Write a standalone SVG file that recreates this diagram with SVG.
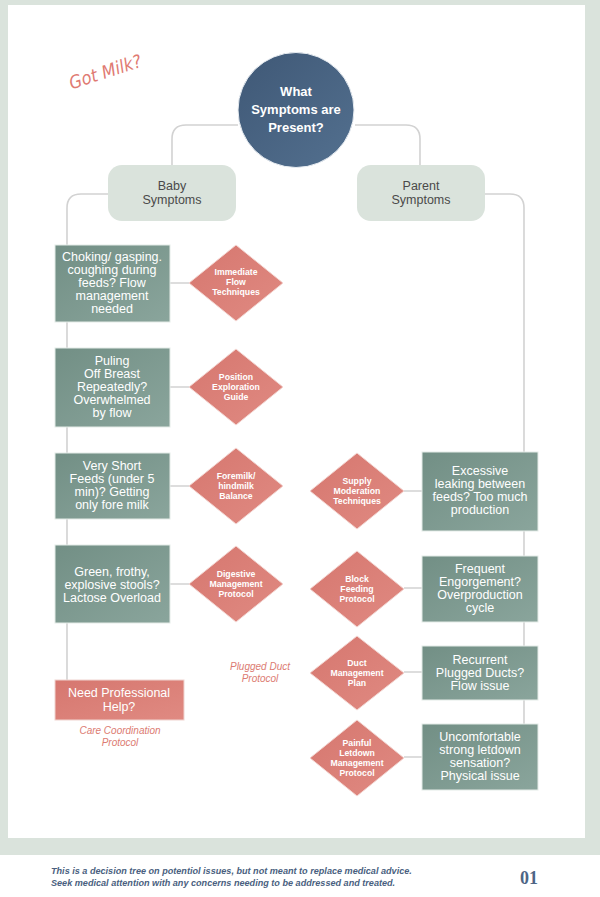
<svg xmlns="http://www.w3.org/2000/svg" width="600" height="897" viewBox="0 0 600 897">
<defs>
<linearGradient id="gTeal" x1="0" y1="0" x2="1" y2="1"><stop offset="0" stop-color="#728f85"/><stop offset="1" stop-color="#8aa59c"/></linearGradient>
<linearGradient id="gSalmon" x1="0" y1="0" x2="1" y2="1"><stop offset="0" stop-color="#d6776f"/><stop offset="1" stop-color="#e08a82"/></linearGradient>
<linearGradient id="gBlue" x1="0" y1="0" x2="1" y2="1"><stop offset="0" stop-color="#3f5876"/><stop offset="1" stop-color="#53708f"/></linearGradient>
<style>
.tb{fill:url(#gTeal);stroke:#e4ebe7;stroke-width:1}
.dm{fill:url(#gSalmon);stroke:#f3d6d2;stroke-width:1}
.sb{fill:#dae3dc}
.ln{fill:none;stroke:#d2d2d2;stroke-width:1.6}
.bt{font-family:"Liberation Sans",Arial,sans-serif;font-size:12.5px;fill:#ffffff;text-anchor:middle}
.dt{font-family:"Liberation Sans",Arial,sans-serif;font-size:8.7px;font-weight:bold;fill:#ffffff;text-anchor:middle}
.st{font-family:"Liberation Sans",Arial,sans-serif;font-size:12.5px;fill:#4a4a4a;text-anchor:middle}
.it{font-family:"Liberation Sans",Arial,sans-serif;font-size:10px;font-style:italic;fill:#dc7b72;text-anchor:middle}
</style>
</defs>
<rect x="0" y="0" width="600" height="855" fill="#dae3dc"/>
<rect x="0" y="855" width="600" height="42" fill="#ffffff"/>
<rect x="8" y="5" width="577" height="833" fill="#ffffff"/>
<text x="106" y="78" transform="rotate(-18 106 74)" font-family="'DejaVu Sans Condensed','DejaVu Sans',sans-serif" font-size="18" font-style="italic" fill="#e07a72" text-anchor="middle">Got Milk?</text>
<g id="connectors">
<path class="ln" d="M238 125 H186 Q172 125 172 139 V165"/>
<path class="ln" d="M355 125 H406 Q420 125 420 139 V165"/>
<path class="ln" d="M108 194 H81 Q67 194 67 208 V680"/>
<path class="ln" d="M485 194 H510 Q524 194 524 208 V790"/>
<path class="ln" d="M170 283 H189 M170 387 H189 M170 486 H189 M170 584 H189"/>
<path class="ln" d="M404 491 H422 M404 588 H422 M404 672 H422 M404 757 H422"/>
</g>
<g id="root"><ellipse cx="296" cy="110" rx="58" ry="57.5" fill="url(#gBlue)" stroke="#e8edf2" stroke-width="1"/>
<text font-family="'Liberation Sans',Arial,sans-serif" font-size="13" font-weight="bold" fill="#fff" text-anchor="middle"><tspan x="296" y="96">What</tspan><tspan x="296" y="114">Symptoms are</tspan><tspan x="296" y="132">Present?</tspan></text></g>
<g id="baby"><rect class="sb" x="108" y="165" width="128" height="56" rx="14"/><text class="st"><tspan x="172" y="190">Baby</tspan><tspan x="172" y="204">Symptoms</tspan></text></g>
<g id="parent"><rect class="sb" x="357" y="165" width="128" height="56" rx="14"/><text class="st"><tspan x="421" y="190">Parent</tspan><tspan x="421" y="204">Symptoms</tspan></text></g>
<g id="b1"><rect class="tb" x="55" y="245" width="115" height="77"/><text class="bt"><tspan x="112" y="261">Choking/ gasping.</tspan><tspan x="112" y="274">coughing during</tspan><tspan x="112" y="287">feeds? Flow</tspan><tspan x="112" y="300">management</tspan><tspan x="112" y="313">needed</tspan></text></g>
<g id="b2"><rect class="tb" x="55" y="348" width="115" height="79"/><text class="bt"><tspan x="112" y="365">Puling</tspan><tspan x="112" y="378">Off Breast</tspan><tspan x="112" y="391">Repeatedly?</tspan><tspan x="112" y="404">Overwhelmed</tspan><tspan x="112" y="417">by flow</tspan></text></g>
<g id="b3"><rect class="tb" x="55" y="453" width="115" height="66"/><text class="bt"><tspan x="112" y="470">Very Short</tspan><tspan x="112" y="483">Feeds (under 5</tspan><tspan x="112" y="496">min)? Getting</tspan><tspan x="112" y="509">only fore milk</tspan></text></g>
<g id="b4"><rect class="tb" x="55" y="545" width="115" height="78"/><text class="bt"><tspan x="112" y="576">Green, frothy,</tspan><tspan x="112" y="589">explosive stools?</tspan><tspan x="112" y="602">Lactose Overload</tspan></text></g>
<g id="b5"><rect x="55" y="680" width="129" height="40" fill="url(#gSalmon)" stroke="#f0d4d0" stroke-width="1"/><text class="bt"><tspan x="119" y="697">Need Professional</tspan><tspan x="119" y="711">Help?</tspan></text>
<text class="it"><tspan x="120" y="734">Care Coordination</tspan><tspan x="120" y="746">Protocol</tspan></text></g>
<g id="d1"><polygon class="dm" points="236,245 283,283 236,321 189,283"/><text class="dt"><tspan x="236" y="275">Immediate</tspan><tspan x="236" y="285">Flow</tspan><tspan x="236" y="295">Techniques</tspan></text></g>
<g id="d2"><polygon class="dm" points="236,349 283,387 236,425 189,387"/><text class="dt"><tspan x="236" y="380">Position</tspan><tspan x="236" y="390">Exploration</tspan><tspan x="236" y="400">Guide</tspan></text></g>
<g id="d3"><polygon class="dm" points="236,448 283,486 236,524 189,486"/><text class="dt"><tspan x="236" y="479">Foremilk/</tspan><tspan x="236" y="489">hindmilk</tspan><tspan x="236" y="499">Balance</tspan></text></g>
<g id="d4"><polygon class="dm" points="236,546 283,584 236,622 189,584"/><text class="dt"><tspan x="236" y="577">Digestive</tspan><tspan x="236" y="587">Management</tspan><tspan x="236" y="597">Protocol</tspan></text></g>
<g id="p1"><rect class="tb" x="422" y="452" width="116" height="79"/><text class="bt"><tspan x="480" y="475">Excessive</tspan><tspan x="480" y="488">leaking between</tspan><tspan x="480" y="501">feeds? Too much</tspan><tspan x="480" y="514">production</tspan></text></g>
<g id="p2"><rect class="tb" x="422" y="556" width="116" height="66"/><text class="bt"><tspan x="480" y="573">Frequent</tspan><tspan x="480" y="586">Engorgement?</tspan><tspan x="480" y="599">Overproduction</tspan><tspan x="480" y="612">cycle</tspan></text></g>
<g id="p3"><rect class="tb" x="422" y="646" width="116" height="54"/><text class="bt"><tspan x="480" y="664">Recurrent</tspan><tspan x="480" y="677">Plugged Ducts?</tspan><tspan x="480" y="690">Flow issue</tspan></text></g>
<g id="p4"><rect class="tb" x="422" y="724" width="116" height="66"/><text class="bt"><tspan x="480" y="741">Uncomfortable</tspan><tspan x="480" y="754">strong letdown</tspan><tspan x="480" y="767">sensation?</tspan><tspan x="480" y="780">Physical issue</tspan></text></g>
<g id="q1"><polygon class="dm" points="357,453 404,491 357,529 310,491"/><text class="dt"><tspan x="357" y="484">Supply</tspan><tspan x="357" y="494">Moderation</tspan><tspan x="357" y="504">Techniques</tspan></text></g>
<g id="q2"><polygon class="dm" points="357,551 404,589 357,627 310,589"/><text class="dt"><tspan x="357" y="582">Block</tspan><tspan x="357" y="592">Feeding</tspan><tspan x="357" y="602">Protocol</tspan></text></g>
<g id="q3"><polygon class="dm" points="357,636 404,673 357,710 310,673"/><text class="dt"><tspan x="357" y="666">Duct</tspan><tspan x="357" y="676">Management</tspan><tspan x="357" y="686">Plan</tspan></text>
<text class="it"><tspan x="260" y="670">Plugged Duct</tspan><tspan x="260" y="682">Protocol</tspan></text></g>
<g id="q4"><polygon class="dm" points="357,720 404,758 357,796 310,758"/><text class="dt"><tspan x="357" y="746">Painful</tspan><tspan x="357" y="756">Letdown</tspan><tspan x="357" y="766">Management</tspan><tspan x="357" y="776">Protocol</tspan></text></g>
<g id="footer">
<text font-family="'Liberation Sans',Arial,sans-serif" font-size="9.1" font-style="italic" font-weight="bold" fill="#4a5f80"><tspan x="51" y="874">This is a decision tree on potentiol issues, but not meant to replace medical advice.</tspan><tspan x="51" y="886">Seek medical attention with any concerns needing to be addressed and treated.</tspan></text>
<text x="529" y="884" font-family="'Liberation Serif',serif" font-size="18" font-weight="bold" fill="#4d6585" text-anchor="middle">01</text>
</g>
</svg>
